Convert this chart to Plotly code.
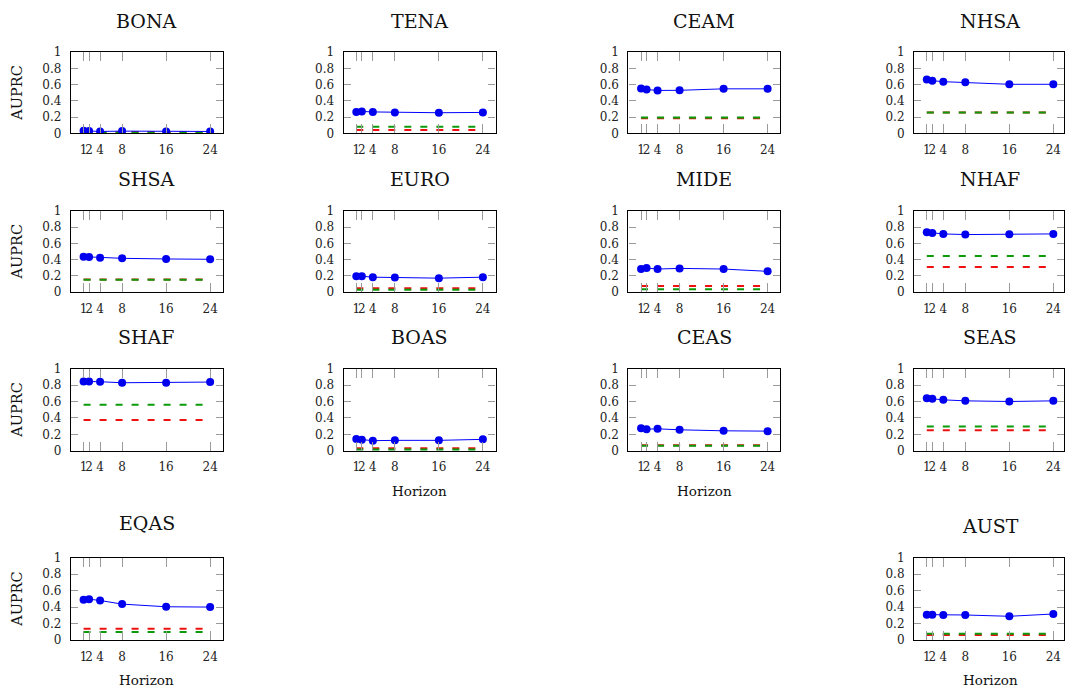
import plotly.graph_objects as go

W, H = 1065, 696

horizons = [1, 2, 4, 8, 16, 24]
x_ticks = [1, 2, 4, 8, 16, 24]
y_ticks = [0, 0.2, 0.4, 0.6, 0.8, 1]
y_tick_labels = ["0", "0.2", "0.4", "0.6", "0.8", "1"]

regions = ["BONA", "TENA", "CEAM", "NHSA",
           "SHSA", "EURO", "MIDE", "NHAF",
           "SHAF", "BOAS", "CEAS", "SEAS",
           "EQAS", "AUST"]

# model AUPRC per horizon
model_BONA = [0.032, 0.028, 0.024, 0.028, 0.024, 0.024]
model_TENA = [0.262, 0.270, 0.264, 0.258, 0.254, 0.258]
model_CEAM = [0.552, 0.540, 0.528, 0.530, 0.548, 0.548]
model_NHSA = [0.664, 0.648, 0.636, 0.628, 0.604, 0.604]
model_SHSA = [0.436, 0.432, 0.424, 0.416, 0.408, 0.404]
model_EURO = [0.196, 0.196, 0.184, 0.180, 0.172, 0.184]
model_MIDE = [0.284, 0.296, 0.284, 0.292, 0.284, 0.256]
model_NHAF = [0.736, 0.728, 0.716, 0.708, 0.712, 0.716]
model_SHAF = [0.844, 0.844, 0.840, 0.828, 0.828, 0.836]
model_BOAS = [0.144, 0.136, 0.124, 0.128, 0.128, 0.140]
model_CEAS = [0.276, 0.264, 0.268, 0.256, 0.244, 0.240]
model_SEAS = [0.640, 0.632, 0.620, 0.608, 0.600, 0.608]
model_EQAS = [0.488, 0.496, 0.480, 0.436, 0.404, 0.400]
model_AUST = [0.308, 0.308, 0.304, 0.304, 0.288, 0.316]

# baselines (red, green)
red_base = {"BONA": 0.016, "TENA": 0.042, "CEAM": 0.186, "NHSA": 0.258,
            "SHSA": 0.157, "EURO": 0.048, "MIDE": 0.076, "NHAF": 0.308,
            "SHAF": 0.376, "BOAS": 0.032, "CEAS": 0.068, "SEAS": 0.252,
            "EQAS": 0.136, "AUST": 0.060}
green_base = {"BONA": 0.008, "TENA": 0.082, "CEAM": 0.196, "NHSA": 0.258,
              "SHSA": 0.152, "EURO": 0.028, "MIDE": 0.036, "NHAF": 0.444,
              "SHAF": 0.560, "BOAS": 0.016, "CEAS": 0.061, "SEAS": 0.296,
              "EQAS": 0.096, "AUST": 0.076}

model = {"BONA": model_BONA, "TENA": model_TENA, "CEAM": model_CEAM, "NHSA": model_NHSA,
         "SHSA": model_SHSA, "EURO": model_EURO, "MIDE": model_MIDE, "NHAF": model_NHAF,
         "SHAF": model_SHAF, "BOAS": model_BOAS, "CEAS": model_CEAS, "SEAS": model_SEAS,
         "EQAS": model_EQAS, "AUST": model_AUST}

# grid placement (col,row)
place = {"BONA": (0, 0), "TENA": (1, 0), "CEAM": (2, 0), "NHSA": (3, 0),
         "SHSA": (0, 1), "EURO": (1, 1), "MIDE": (2, 1), "NHAF": (3, 1),
         "SHAF": (0, 2), "BOAS": (1, 2), "CEAS": (2, 2), "SEAS": (3, 2),
         "EQAS": (0, 3), "AUST": (3, 3)}
ylabel_panels = {"BONA", "SHSA", "SHAF", "EQAS"}
xlabel_panels = {"BOAS", "CEAS", "EQAS", "AUST"}

col_left = [71, 344, 629, 915]
panel_w = 152
row_top = [46, 208, 369, 562]
row_bot = [129, 291, 453, 646]
xmin, xmax = -1.3, 26.3

FONT = "DejaVu Serif"
fig = go.Figure()
layout = {}
annotations = []

for i, name in enumerate(regions):
    c, r = place[name]
    k = i + 1
    xa = "x" if k == 1 else f"x{k}"
    ya = "y" if k == 1 else f"y{k}"
    left = col_left[c]
    right = left + panel_w
    rx = xmax
    if right > W:
        rx = xmin + (W - left) * (xmax - xmin) / panel_w
        right = W
    rb, gb = red_base[name], green_base[name]
    fig.add_trace(go.Scatter(x=[horizons[0], horizons[-1]], y=[rb, rb], mode="lines",
                             line=dict(color="#ee1111", width=2, dash="7px,9px"),
                             xaxis=xa, yaxis=ya, showlegend=False, hoverinfo="skip"))
    fig.add_trace(go.Scatter(x=[horizons[0], horizons[-1]], y=[gb, gb], mode="lines",
                             line=dict(color="#0a9a0a", width=2, dash="7px,9px"),
                             xaxis=xa, yaxis=ya, showlegend=False, hoverinfo="skip"))
    fig.add_trace(go.Scatter(x=horizons, y=model[name], mode="lines+markers",
                             line=dict(color="#0000ff", width=1),
                             marker=dict(color="#0000ee", size=8, line=dict(width=0)),
                             xaxis=xa, yaxis=ya, showlegend=False))
    xkey = "xaxis" if k == 1 else f"xaxis{k}"
    ykey = "yaxis" if k == 1 else f"yaxis{k}"
    layout[xkey] = dict(domain=[left / W, right / W], anchor=ya, range=[xmin, rx],
                        tickmode="array", tickvals=x_ticks, ticktext=[str(v) for v in x_ticks],
                        tickangle=0,
                        ticks="inside", ticklen=9, tickwidth=1, tickcolor="#9a9a9a",
                        showline=True, linecolor="black", linewidth=1.3, mirror="ticks",
                        showgrid=False, zeroline=False, ticklabelstandoff=5,
                        tickfont=dict(family=FONT, size=12, color="#222"))
    layout[ykey] = dict(domain=[1 - row_bot[r] / H, 1 - row_top[r] / H], anchor=xa,
                        range=[0, 1], tickmode="array", tickvals=y_ticks, ticktext=y_tick_labels,
                        ticks="inside", ticklen=7, tickwidth=1, tickcolor="#9a9a9a",
                        showline=True, linecolor="black", linewidth=1.3, mirror="ticks",
                        showgrid=False, zeroline=False, ticklabelstandoff=6,
                        tickfont=dict(family=FONT, size=12, color="#222"))
    cx = (col_left[c] + panel_w / 2) / W
    ty = row_top[r] - (35 if name == "EQAS" else 32)
    annotations.append(dict(text=name, x=cx, y=1 - ty / H, xref="paper", yref="paper",
                            xanchor="center", yanchor="middle", showarrow=False,
                            font=dict(family=FONT, size=19, color="#111")))
    if name in ylabel_panels:
        annotations.append(dict(text="AUPRC", x=17 / W, y=1 - (row_top[r] + row_bot[r]) / 2 / H,
                                xref="paper", yref="paper", xanchor="center", yanchor="middle",
                                textangle=-90, showarrow=False,
                                font=dict(family=FONT, size=14.5, color="#111")))
    if name in xlabel_panels:
        annotations.append(dict(text="Horizon", x=cx, y=1 - (row_bot[r] + 41) / H,
                                xref="paper", yref="paper", xanchor="center", yanchor="middle",
                                showarrow=False, font=dict(family=FONT, size=13.5, color="#111")))

fig.update_layout(width=W, height=H, margin=dict(l=0, r=0, t=0, b=0),
                  paper_bgcolor="white", plot_bgcolor="white",
                  annotations=annotations, **layout)
fig.write_html("out.html", config={"displayModeBar": False},
               post_script="document.body.style.margin='0';document.body.style.overflow='hidden';")
